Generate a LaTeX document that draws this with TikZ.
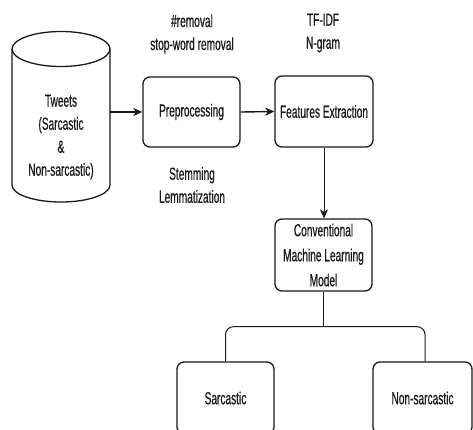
\documentclass[tikz,border=0pt]{standalone}
\usepackage{fontspec}
\setmainfont{Liberation Sans}[FakeStretch=0.58, FakeBold=0.5]
\usetikzlibrary{arrows.meta,calc}
\begin{document}
\begin{tikzpicture}[x=1pt,y=-1pt,
  lbl/.style={font=\fontsize{17.5}{23}\selectfont, align=center, inner sep=0pt, text=black!90},
  stepbox/.style={draw=black!90, line width=1.3pt, rounded corners=7pt, lbl},
  conn/.style={draw=black!90, line width=1pt},
  arr/.style={conn, -{Stealth[length=9pt,width=8pt,inset=2.5pt]}}
]
\path[use as bounding box] (0,0) rectangle (473,429);
\clip (0,0) rectangle (473,429);
% cylinder
\draw[line width=1.3pt, black!90] (12,49) -- (12,185) arc[start angle=180, end angle=360, x radius=49, y radius=-17] -- (110,49);
\draw[line width=1.3pt, black!90] (61,49) ellipse[x radius=49, y radius=17.5];
\node[lbl, minimum width=98pt] (tweets) at (61,137) {Tweets\\(Sarcastic\\\&\\Non-sarcastic)};
% boxes
\node[stepbox, minimum width=97pt, minimum height=70pt] (pre) at (191.5,112) {Preprocessing};
\node[stepbox, minimum width=98pt, minimum height=71pt] (feat) at (324,111.5) {Features Extraction};
\node[stepbox, minimum width=97pt, minimum height=72pt, font=\fontsize{17.5}{25}\selectfont] (cml) at (323.5,255) {Conventional\\Machine Learning\\Model};
\node[stepbox, minimum width=97pt, minimum height=72pt] (sar) at (225.5,398) {Sarcastic};
\node[stepbox, minimum width=99pt, minimum height=72pt] (non) at (422.5,398) {Non-sarcastic};
% annotations
\node[lbl] (rem) at (192,34) {\#removal\\stop-word removal};
\node[lbl] (stem) at (192,185) {Stemming\\Lemmatization};
\node[lbl] (tfidf) at (323,33) {TF-IDF\\N-gram};
% connectors
\draw[arr, line width=1.8pt] (tweets.east |- pre.west) -- (pre.west);
\draw[arr, line width=1.4pt] (pre.east) -- (feat.west);
\draw[arr] (feat.south) -- (feat.south |- cml.north);
\coordinate (j) at ($(cml.south)+(0,35)$);
\draw[conn] (cml.south) -- (j);
\draw[conn, rounded corners=8pt] (j) -| (sar.north);
\draw[conn, rounded corners=8pt] (j) -| ($(non.north)+(2.5,0)$);
\end{tikzpicture}
\end{document}
